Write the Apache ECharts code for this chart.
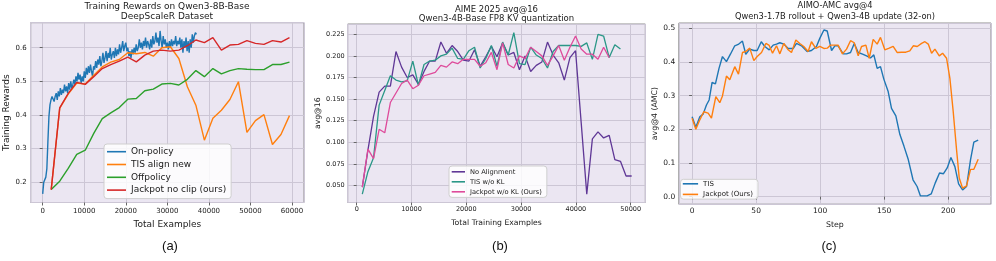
<!DOCTYPE html>
<html><head><meta charset="utf-8">
<script src="https://cdn.jsdelivr.net/npm/echarts@6/dist/echarts.min.js"></script>
<style>html,body{margin:0;padding:0;background:#fff}#c{width:996px;height:261px}</style>
</head><body><div id="c"></div>
<script>
// ---------- Panel (a): Training Rewards on Qwen3-8B-Base ----------
const onPolicyStep = 250;
const onPolicyRewards = [
0.165,0.2,0.205,0.215,0.24,0.32,0.395,0.43,0.445,0.455,
0.46,0.44,0.455,0.465,0.445,0.47,0.455,0.48,0.46,0.475,
0.465,0.49,0.47,0.485,0.465,0.495,0.475,0.5,0.48,0.49,
0.505,0.49,0.515,0.5,0.525,0.505,0.52,0.495,0.515,0.5,
0.53,0.51,0.54,0.52,0.545,0.525,0.55,0.53,0.515,0.545,
0.535,0.56,0.54,0.565,0.55,0.575,0.545,0.56,0.585,0.555,
0.57,0.59,0.56,0.585,0.57,0.6,0.565,0.58,0.59,0.57,
0.6,0.575,0.595,0.58,0.61,0.585,0.6,0.62,0.59,0.605,
0.615,0.59,0.6,0.575,0.59,0.57,0.595,0.58,0.6,0.585,
0.61,0.59,0.6,0.625,0.6,0.615,0.595,0.62,0.605,0.63,
0.6,0.62,0.61,0.595,0.625,0.6,0.635,0.61,0.62,0.645,
0.615,0.63,0.605,0.65,0.62,0.6,0.635,0.61,0.625,0.6,
0.615,0.595,0.62,0.6,0.625,0.605,0.62,0.61,0.635,0.605,
0.62,0.61,0.63,0.6,0.625,0.585,0.62,0.6,0.63,0.59,
0.62,0.585,0.625,0.6,0.64,0.615,0.635,0.645,
0.64];
const evalStepA = 2048;
const tisAlignNew = [0.178,0.42,0.462,0.495,0.492,0.518,0.543,0.557,0.565,0.585,0.582,0.586,0.575,0.6,0.603,0.568,0.484,0.429,0.325,0.39,0.414,0.446,0.499,0.348,0.383,0.401,0.312,0.342,0.398];
const offpolicy = [0.178,0.203,0.241,0.283,0.295,0.345,0.389,0.406,0.422,0.447,0.449,0.472,0.477,0.492,0.494,0.489,0.506,0.532,0.514,0.538,0.522,0.532,0.538,0.536,0.535,0.535,0.55,0.55,0.557];
const jackpotNoClip = [0.178,0.421,0.464,0.497,0.491,0.514,0.538,0.55,0.56,0.572,0.558,0.578,0.59,0.593,0.59,0.593,0.606,0.623,0.615,0.63,0.593,0.608,0.61,0.621,0.613,0.61,0.621,0.617,0.63];

// ---------- Panel (b): AIME 2025 avg@16 ----------
const evalStepB = 1024;
const noAlignment = [0.048,0.091,0.130,0.158,0.165,0.165,0.205,0.187,0.175,0.178,0.167,0.182,0.194,0.194,0.216,0.203,0.212,0.205,0.195,0.194,0.207,0.188,0.199,0.211,0.199,0.215,0.201,0.204,0.184,0.200,0.182,0.189,0.193,0.216,0.201,0.192,0.172,0.198,0.206,0.123,0.040,0.104,0.112,0.105,0.108,0.080,0.078,0.061,0.061];
const tisNoKL = [0.040,0.066,0.082,0.143,0.160,0.177,0.172,0.170,0.171,0.194,0.166,0.190,0.194,0.195,0.200,0.202,0.209,0.197,0.196,0.206,0.210,0.186,0.197,0.212,0.188,0.216,0.201,0.227,0.191,0.190,0.210,0.201,0.197,0.186,0.205,0.212,0.212,0.212,0.212,0.211,0.215,0.196,0.225,0.223,0.198,0.213,0.208];
const jackpotNoKL = [0.048,0.092,0.081,0.115,0.111,0.146,0.157,0.168,0.172,0.162,0.166,0.177,0.179,0.181,0.189,0.187,0.193,0.191,0.196,0.196,0.196,0.188,0.192,0.204,0.184,0.215,0.190,0.186,0.200,0.197,0.210,0.205,0.200,0.189,0.200,0.212,0.195,0.210,0.223,0.208,0.202,0.202,0.196,0.210,0.198];

// ---------- Panel (c): AIMO-AMC avg@4 ----------
const tisSteps = [0,2.9,6,8.6,11.2,13.3,15.6,18.2,21,23.7,26.8,29.9,33.3,36,39.3,41.9,45,48.2,50.8,54,56.8,60.2,63.3,65.9,68.5,71.6,75,79,81.5,85.4,89.8,93.2,97.1,99.7,102.9,105.5,108.9,111.5,114,118,120.6,123.7,126.6,129.7,133.1,136.2,139.3,141.9,144.5,147.1,149.7,153.1,155.7,159.1,162.2,165.4,168.8,172.5,175.7,178.3,183.5,186.7,189.8,193.2,196.3,199.2,202.1,205.2,208.1,211.2,214.3,217.4,220,223.4];
const tisScores = [0.237,0.206,0.237,0.245,0.272,0.287,0.339,0.335,0.381,0.416,0.401,0.423,0.448,0.452,0.462,0.423,0.438,0.434,0.434,0.46,0.446,0.436,0.45,0.453,0.457,0.453,0.44,0.44,0.455,0.448,0.431,0.434,0.446,0.47,0.495,0.492,0.434,0.448,0.448,0.424,0.424,0.428,0.455,0.428,0.423,0.418,0.412,0.421,0.381,0.386,0.349,0.312,0.262,0.24,0.185,0.15,0.11,0.05,0.03,0.002,0.002,0.008,0.04,0.07,0.068,0.085,0.116,0.089,0.038,0.02,0.03,0.109,0.162,0.168];
const jackpotSteps = [0,2.9,6,9.1,12.5,15.1,18.5,21.6,23.7,26.8,29.4,33.3,36.2,39.3,41.9,45,48.2,50.8,54.2,57.6,60.2,62.8,65.9,68.5,71.6,75,77.6,81,84.1,87.2,90.6,93.2,96.6,99.7,102.9,105.5,108.1,111.5,114,117.4,120.6,123.7,126.6,129.7,132.3,135.7,138.3,141.4,144.5,147.1,150.5,153.9,157,160.2,163.5,166.9,170,172.7,175.8,179.2,181.8,184.4,187,189.6,193,195.6,198.7,201.3,203.9,206.5,208.6,211.2,214.3,217.4,220,223.4];
const jackpotScores = [0.233,0.2,0.228,0.252,0.248,0.233,0.297,0.279,0.299,0.358,0.347,0.386,0.364,0.428,0.431,0.441,0.404,0.416,0.428,0.455,0.449,0.426,0.448,0.424,0.455,0.436,0.428,0.465,0.455,0.446,0.431,0.46,0.44,0.446,0.44,0.441,0.45,0.45,0.45,0.424,0.438,0.463,0.457,0.418,0.446,0.45,0.411,0.467,0.453,0.473,0.436,0.441,0.446,0.428,0.429,0.429,0.433,0.448,0.446,0.455,0.46,0.453,0.426,0.438,0.418,0.426,0.411,0.351,0.252,0.139,0.055,0.025,0.032,0.081,0.081,0.111];

// ---------- styling ----------
const FONT = 'DejaVu Sans';
const TXT = '#1a1a1a';
const BG = '#ebe6f2';
const GL = '#ccc6d5';
const BORDER = '#8f8f8f';

function makeGrid(l, t, w, h) {
  return {left: l, top: t, width: w, height: h, show: true, backgroundColor: BG, borderColor: BORDER, borderWidth: 1};
}
function makeAxis(kind, g, min, max, iv, lab, name) {
  const isY = kind === 'y';
  return {
    type: 'value', gridIndex: g, min: min, max: max, minInterval: iv, maxInterval: iv,
    axisLine: {show: false},
    axisTick: {show: true, length: 3, lineStyle: {color: '#666'}},
    splitLine: {show: true, lineStyle: {color: GL, width: 1}},
    axisLabel: {fontSize: lab.size, color: TXT, fontFamily: FONT, margin: lab.margin, lineHeight: lab.size + 1,
      showMinLabel: false, showMaxLabel: false, formatter: lab.fmt},
    name: name.text, nameLocation: 'middle', nameGap: name.gap, nameRotate: isY ? 90 : 0,
    nameTextStyle: {fontSize: name.size, color: TXT, fontFamily: FONT, lineHeight: name.size + 1.2}
  };
}
function lineSeries(name, color, data, xi, width) {
  return {type: 'line', name: name, xAxisIndex: xi, yAxisIndex: xi, data: data, showSymbol: false, symbol: 'none',
    lineStyle: {color: color, width: width}, itemStyle: {color: color}, animation: false, clip: true};
}
function legend(left, top, names, o) {
  return {orient: 'vertical', left: left, top: top, data: names, icon: 'rect', itemWidth: o.w, itemHeight: 1.6,
    itemGap: o.gap, padding: o.pad, backgroundColor: 'rgba(255,255,255,0.82)', borderColor: '#cfcfcf', borderWidth: 1,
    borderRadius: 3, selectedMode: false,
    textStyle: {fontSize: o.size, lineHeight: o.lh, color: TXT, fontFamily: FONT}};
}
const intFmt = v => String(Math.round(v));
const f1 = v => v.toFixed(1);
const f3 = v => v.toFixed(3);

const series = [
  lineSeries('On-policy', '#1f77b4', onPolicyRewards.map((v, i) => [i * onPolicyStep, v]), 0, 1.4),
  lineSeries('TIS align new', '#ff7f0e', tisAlignNew.map((v, i) => [(i + 1) * evalStepA, v]), 0, 1.4),
  lineSeries('Offpolicy', '#2ca02c', offpolicy.map((v, i) => [(i + 1) * evalStepA, v]), 0, 1.4),
  lineSeries('Jackpot no clip (ours)', '#d62728', jackpotNoClip.map((v, i) => [(i + 1) * evalStepA, v]), 0, 1.4),
  lineSeries('No Alignment', '#5f3796', noAlignment.map((v, i) => [(i + 1) * evalStepB, v]), 1, 1.3),
  lineSeries('TIS w/o KL', '#2a9787', tisNoKL.map((v, i) => [(i + 1) * evalStepB, v]), 1, 1.3),
  lineSeries('Jackpot w/o KL (Ours)', '#de4b9b', jackpotNoKL.map((v, i) => [(i + 1) * evalStepB, v]), 1, 1.3),
  lineSeries('TIS', '#1f77b4', tisSteps.map((s, i) => [s, tisScores[i]]), 2, 1.4),
  lineSeries('Jackpot (Ours)', '#ff7f0e', jackpotSteps.map((s, i) => [s, jackpotScores[i]]), 2, 1.4)
];

const titleStyle = (size, lh) => ({fontSize: size, lineHeight: lh, fontWeight: 'normal', color: TXT, fontFamily: FONT});
const subStyle = {fontSize: 13, lineHeight: 14, fontWeight: 'normal', color: '#111', fontFamily: 'Liberation Sans'};
const option = {
  animation: false,
  backgroundColor: '#ffffff',
  title: [
    {text: 'Training Rewards on Qwen3-8B-Base\nDeepScaleR Dataset', left: 167, top: 1.7, textAlign: 'center', padding: 0, textStyle: titleStyle(9, 10)},
    {text: 'AIME 2025 avg@16\nQwen3-4B-Base FP8 KV quantization', left: 496.5, top: 4.5, textAlign: 'center', padding: 0, textStyle: titleStyle(8.5, 9.7)},
    {text: 'AIMO-AMC avg@4\nQwen3-1.7B rollout + Qwen3-4B update (32-on)', left: 835, top: 0.7, textAlign: 'center', padding: 0, textStyle: titleStyle(8.3, 10.6)},
    {text: '(a)', left: 170, top: 239, textAlign: 'center', padding: 0, textStyle: subStyle},
    {text: '(b)', left: 500, top: 239, textAlign: 'center', padding: 0, textStyle: subStyle},
    {text: '(c)', left: 829, top: 239, textAlign: 'center', padding: 0, textStyle: subStyle}
  ],
  grid: [
    makeGrid(30.7, 22.7, 273.3, 179.8),
    makeGrid(347.7, 24, 297.6, 178.5),
    makeGrid(678.8, 23, 312.2, 181.2)
  ],
  xAxis: [
    makeAxis('x', 0, -2888, 62888, 10000, {size: 7, margin: 4.4, fmt: intFmt}, {text: 'Total Examples', gap: 12.7, size: 9}),
    makeAxis('x', 1, -1642, 52664, 10000, {size: 6.5, margin: 3.2, fmt: intFmt}, {text: 'Total Training Examples', gap: 10.5, size: 7.7}),
    makeAxis('x', 2, -10.4, 233.4, 50, {size: 7.5, margin: 2.8, fmt: intFmt}, {text: 'Step', gap: 11.5, size: 7.8})
  ],
  yAxis: [
    makeAxis('y', 0, 0.1395, 0.6745, 0.1, {size: 7, margin: 4, fmt: f1}, {text: 'Training Rewards', gap: 16.4, size: 9}),
    makeAxis('y', 1, 0.0303, 0.2369, 0.025, {size: 6.5, margin: 3, fmt: f3}, {text: 'avg@16', gap: 23.5, size: 7.7}),
    makeAxis('y', 2, -0.0226, 0.5157, 0.1, {size: 7.5, margin: 3.6, fmt: f1}, {text: 'avg@4 (AMC)', gap: 14.8, size: 7.8})
  ],
  legend: [
    legend(104, 144, ['On-policy', 'TIS align new', 'Offpolicy', 'Jackpot no clip (ours)'], {w: 19, gap: 2.8, pad: [2.7, 5, 3.5, 3], size: 9, lh: 10}),
    legend(449, 166, ['No Alignment', 'TIS w/o KL', 'Jackpot w/o KL (Ours)'], {w: 13.3, gap: 2, pad: [1.8, 5, 1.6, 2.7], size: 6.7, lh: 8}),
    legend(680.5, 179.3, ['TIS', 'Jackpot (Ours)'], {w: 15.3, gap: 2.6, pad: [0.5, 5, 0.7, 2.3], size: 7, lh: 8})
  ],
  series: series
};
const chart = echarts.init(document.getElementById('c'), null, {renderer: 'canvas', width: 996, height: 261});
chart.setOption(option);
</script></body></html>
